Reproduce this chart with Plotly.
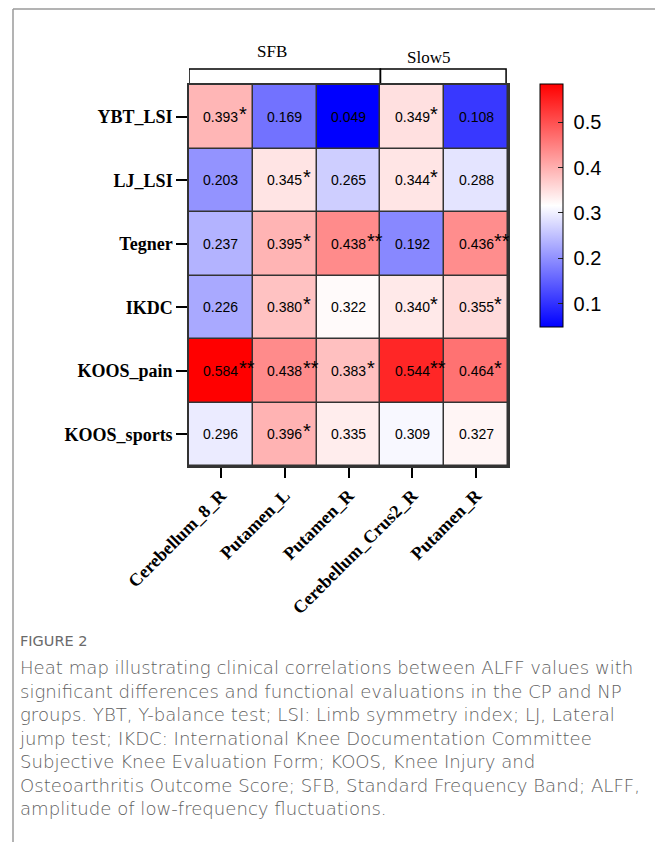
import plotly.graph_objects as go

# Correlation coefficients between ALFF regions and functional scores
regions = ["Cerebellum_8_R", "Putamen_L", "Putamen_R", "Cerebellum_Crus2_R", "Putamen_R"]
measures = ["YBT_LSI", "LJ_LSI", "Tegner", "IKDC", "KOOS_pain", "KOOS_sports"]
r_values = [
    [0.393, 0.169, 0.049, 0.349, 0.108],
    [0.203, 0.345, 0.265, 0.344, 0.288],
    [0.237, 0.395, 0.438, 0.192, 0.436],
    [0.226, 0.380, 0.322, 0.340, 0.355],
    [0.584, 0.438, 0.383, 0.544, 0.464],
    [0.296, 0.396, 0.335, 0.309, 0.327],
]
stars = [
    ["*", "", "", "*", ""],
    ["", "*", "", "*", ""],
    ["", "*", "**", "", "**"],
    ["", "*", "", "*", "*"],
    ["**", "**", "*", "**", "*"],
    ["", "*", "", "", ""],
]
bands = [("SFB", 0, 2), ("Slow5", 3, 4)]
cbar_ticks = [0.1, 0.2, 0.3, 0.4, 0.5]

caption_head = "FIGURE 2"
caption_lines = [
    "Heat map illustrating clinical correlations between ALFF values with",
    "significant differences and functional evaluations in the CP and NP",
    "groups. YBT, Y-balance test; LSI: Limb symmetry index; LJ, Lateral",
    "jump test; IKDC: International Knee Documentation Committee",
    "Subjective Knee Evaluation Form; KOOS, Knee Injury and",
    "Osteoarthritis Outcome Score; SFB, Standard Frequency Band; ALFF,",
    "amplitude of low-frequency fluctuations.",
]

W, H = 655, 842
L, R, T, B = 189, 147, 85, 376
PW, PH = W - L - R, H - T - B


def px_x(x):
    return (x - L) / PW


def px_y(y):
    return (H - B - y) / PH


SERIF = "Liberation Serif, Times New Roman, serif"
SANS = "Liberation Sans, Arial, sans-serif"
CAP = "DejaVu Sans, Inter, sans-serif"

fig = go.Figure()
fig.add_trace(go.Heatmap(
    z=r_values,
    x=list(range(len(regions))),
    y=list(range(len(measures))),
    zmin=min(min(r) for r in r_values),
    zmax=max(max(r) for r in r_values),
    colorscale=[[0, "rgb(0,0,255)"], [0.5, "rgb(255,255,255)"], [1, "rgb(255,0,0)"]],
    xgap=1.5, ygap=1.5,
    hoverinfo="skip",
    colorbar=dict(
        x=px_x(540), xanchor="left",
        y=px_y(205.5), yanchor="middle",
        len=243, lenmode="pixels",
        thickness=23, thicknessmode="pixels",
        outlinewidth=1, outlinecolor="black",
        tickvals=cbar_ticks,
        ticktext=["\u00a0" + f"{v:.1f}" for v in cbar_ticks],
        ticks="inside", ticklen=5, tickcolor="#222", tickwidth=1,
        tickfont=dict(family=SANS, size=20, color="black"),
        xpad=0, ypad=0,
    ),
))

annotations = []
for i, row in enumerate(r_values):
    for j, v in enumerate(row):
        annotations.append(dict(
            x=j, y=i, xref="x", yref="y", text=f"{v:.3f}", showarrow=False,
            font=dict(family=SANS, size=14, color="black"),
            xanchor="center", yanchor="middle",
        ))
        if stars[i][j]:
            annotations.append(dict(
                x=j, y=i, xref="x", yref="y", text=stars[i][j], showarrow=False,
                font=dict(family=SANS, size=20, color="black"),
                xanchor="left", yanchor="middle", xshift=16, yshift=3,
            ))

band_label_pos = {"SFB": (272, 52), "Slow5": (428, 58)}
for name, c0, c1 in bands:
    lx, ly = band_label_pos[name]
    annotations.append(dict(
        x=px_x(lx), y=px_y(ly), xref="paper", yref="paper",
        text=name, showarrow=False, xanchor="center", yanchor="middle",
        font=dict(family=SERIF, size=17, color="black"),
    ))

annotations.append(dict(
    x=px_x(18), y=px_y(641), xref="paper", yref="paper", text=caption_head,
    showarrow=False, xanchor="left", yanchor="middle",
    font=dict(family=CAP, size=14.5, color="#6a6a6a"),
))
# caption body as one left-aligned block (line height = 1.3 em)
annotations.append(dict(
    x=px_x(17), y=px_y(738), xref="paper", yref="paper",
    text="<br>".join(caption_lines), align="left",
    showarrow=False, xanchor="left", yanchor="middle",
    font=dict(family=CAP, size=18.1, color="#5f5f5f", weight=300),
))

shapes = []
# band brackets above the grid
for name, c0, c1 in bands:
    x0 = c0 - 0.5
    x1 = min(c1 + 0.5, 4.47)
    ya, yb = px_y(83), px_y(69)
    shapes.append(dict(
        type="path", xref="x", yref="paper",
        path=f"M {x0},{ya} L {x0},{yb} L {x1},{yb} L {x1},{ya}",
        line=dict(color="black", width=1.5),
    ))
# page frame
shapes.append(dict(type="line", xref="paper", yref="paper",
                   x0=px_x(13), x1=px_x(W), y0=px_y(9), y1=px_y(9),
                   line=dict(color="#9a9a9a", width=1.5)))
shapes.append(dict(type="line", xref="paper", yref="paper",
                   x0=px_x(13), x1=px_x(13), y0=px_y(9), y1=px_y(H),
                   line=dict(color="#9a9a9a", width=1.5)))

fig.update_layout(
    width=W, height=H,
    margin=dict(l=L, r=R, t=T, b=B, pad=0),
    paper_bgcolor="white",
    plot_bgcolor="#333333",
    annotations=annotations,
    shapes=shapes,
    showlegend=False,
    xaxis=dict(
        range=[-0.5, 4.5], tickvals=list(range(len(regions))), ticktext=regions,
        tickangle=-45, ticks="outside", ticklen=10, tickwidth=1.5, tickcolor="black",
        tickfont=dict(family=SERIF, size=18, color="black", weight="bold"),
        showgrid=False, zeroline=False,
        showline=True, mirror=True, linecolor="#333333", linewidth=1.5,
        fixedrange=True,
    ),
    yaxis=dict(
        range=[5.5, -0.5], tickvals=list(range(len(measures))), ticktext=measures,
        ticks="outside", ticklen=11, tickwidth=1.5, tickcolor="black",
        tickfont=dict(family=SERIF, size=18, color="black", weight="bold"),
        showgrid=False, zeroline=False,
        showline=True, mirror=True, linecolor="#333333", linewidth=1.5,
        fixedrange=True,
    ),
)

fig.write_html("out.html", config={"displayModeBar": False})
